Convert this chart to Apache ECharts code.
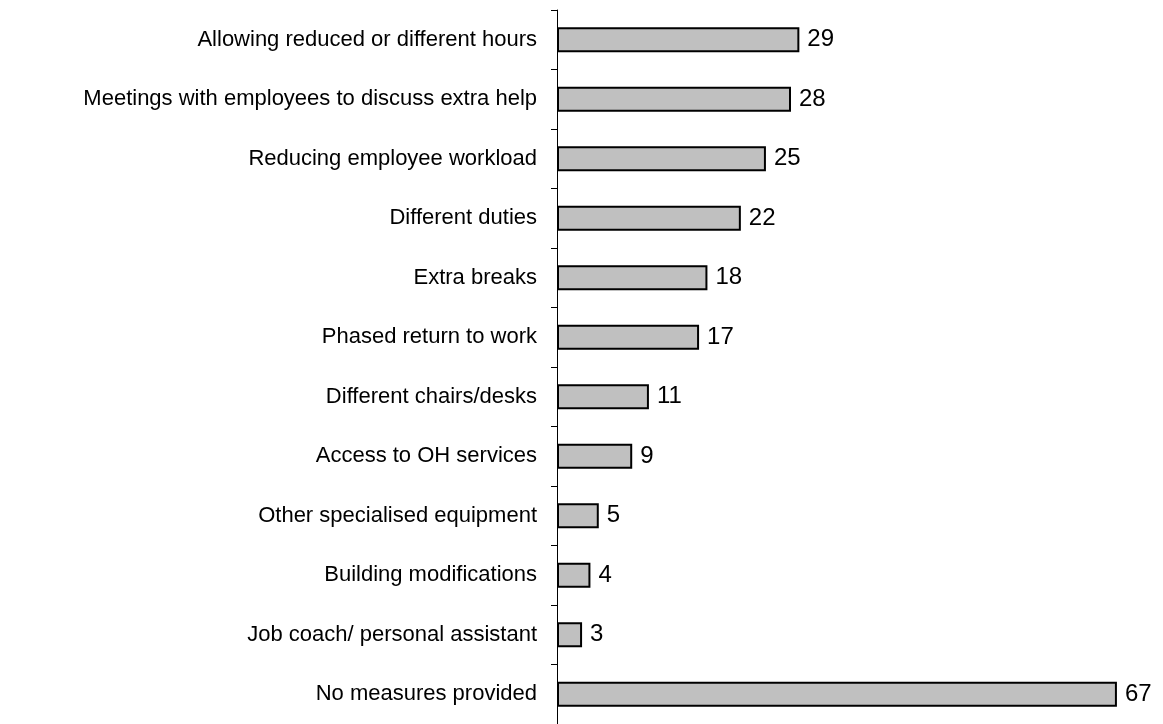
<!DOCTYPE html>
<html>
<head>
<meta charset="utf-8">
<script src="https://cdn.jsdelivr.net/npm/echarts@6/dist/echarts.min.js"></script>
<style>
  html, body { margin: 0; padding: 0; background: #fff; }
  #main { width: 1163px; height: 724px; }
</style>
</head>
<body>
<div id="main"></div>
<script>
// categories, top to bottom
var categories = [
    'Allowing reduced or different hours',
    'Meetings with employees to discuss extra help',
    'Reducing employee workload',
    'Different duties',
    'Extra breaks',
    'Phased return to work',
    'Different chairs/desks',
    'Access to OH services',
    'Other specialised equipment',
    'Building modifications',
    'Job coach/ personal assistant',
    'No measures provided'
];
var values = [29, 28, 25, 22, 18, 17, 11, 9, 5, 4, 3, 67];

var myChart = echarts.init(document.getElementById('main'));
var option = {
    animation: false,
    grid: {
        left: 557,
        right: 21,
        top: 10,
        bottom: -4
    },
    xAxis: {
        type: 'value',
        min: 0,
        max: 70,
        show: false
    },
    yAxis: {
        type: 'category',
        data: categories,
        inverse: true,
        axisLine: { show: true, lineStyle: { color: '#000', width: 1 } },
        axisTick: { show: true, length: 6, lineStyle: { color: '#000' } },
        axisLabel: {
            margin: 20,
            color: '#000',
            fontSize: 22,
            fontFamily: 'Liberation Sans, Arial, sans-serif'
        }
    },
    series: [{
        type: 'bar',
        data: values,
        barWidth: 25,
        itemStyle: {
            color: '#c0c0c0',
            borderColor: '#000',
            borderWidth: 2
        },
        label: {
            show: true,
            position: 'right',
            distance: 8,
            color: '#000',
            fontSize: 24,
            fontFamily: 'Liberation Sans, Arial, sans-serif'
        }
    }]
};
myChart.setOption(option);
</script>
</body>
</html>
